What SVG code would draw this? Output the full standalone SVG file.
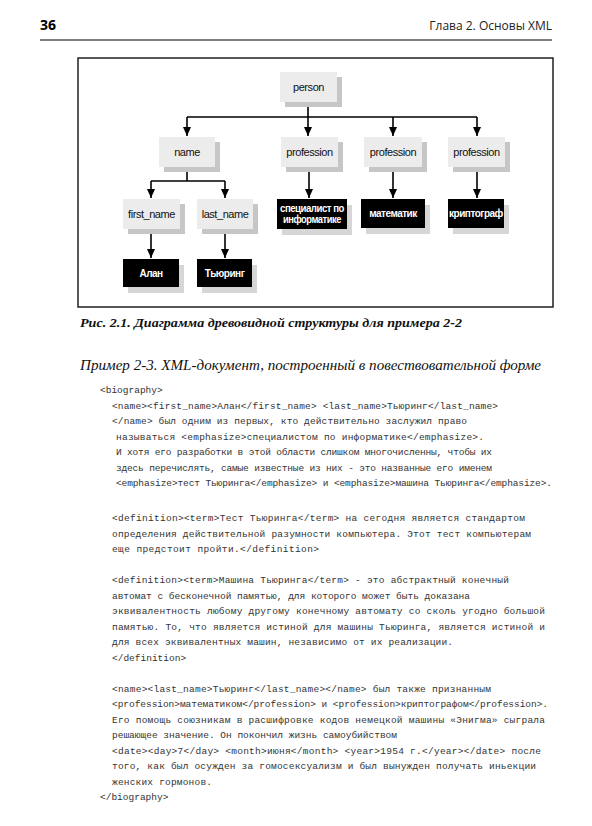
<svg xmlns="http://www.w3.org/2000/svg" width="592" height="826" viewBox="0 0 592 826">
<defs>
<marker id="ah" markerUnits="userSpaceOnUse" markerWidth="9" markerHeight="9" refX="9" refY="4" orient="auto">
<path d="M0,0 L9,4 L0,8 z" fill="#000"/>
</marker>
<style>
.sh{fill:#c6c6c6}
.shd{fill:#d6d6d6}
.nb{fill:#ececec}
.bb{fill:#000}
.nt{font-family:"Liberation Sans",Arial,sans-serif;font-size:11px;letter-spacing:-0.45px;fill:#111;text-anchor:middle}
.bt{font-family:"Liberation Sans",Arial,sans-serif;font-size:10px;font-weight:bold;letter-spacing:-0.5px;fill:#fff;text-anchor:middle}
.ln{stroke:#000;stroke-width:1.6;fill:none}
.ar{stroke:#000;stroke-width:1.6;fill:none;marker-end:url(#ah)}
.code{font-family:"Liberation Mono","DejaVu Sans Mono",monospace;font-size:9.5px;fill:#333;white-space:pre}
</style>
</defs>
<rect width="592" height="826" fill="#fff"/>

<!-- header -->
<text x="40" y="30" font-family="'Open Sans','Liberation Sans',sans-serif" font-size="14" font-weight="bold" fill="#000">36</text>
<text x="552" y="30" font-family="'Open Sans','Liberation Sans',sans-serif" font-size="12" fill="#222" text-anchor="end">Глава 2. Основы XML</text>
<line x1="40" y1="40" x2="552" y2="40" stroke="#000" stroke-width="1.2"/>

<!-- frame -->
<rect x="78" y="58" width="475" height="249" fill="none" stroke="#111" stroke-width="1.4"/>

<!-- connectors -->
<g id="connectors">
<path class="ln" d="M308,102 V117 M187,117 H477"/>
<path class="ar" d="M187,117 V136"/>
<path class="ar" d="M308,117 V136"/>
<path class="ar" d="M393,117 V136"/>
<path class="ar" d="M477,117 V136"/>
<path class="ln" d="M187,166 V181 M151,181 H225"/>
<path class="ar" d="M151,181 V198"/>
<path class="ar" d="M225,181 V198"/>
<path class="ar" d="M151,229 V258"/>
<path class="ar" d="M225,229 V258"/>
<path class="ar" d="M309,167 V198"/>
<path class="ar" d="M393,167 V198"/>
<path class="ar" d="M477,167 V198"/>
</g>

<g id="person">
<rect class="sh" x="285" y="77" width="57" height="30"/>
<rect class="nb" x="280" y="72" width="57" height="30"/>
<text class="nt" x="308.5" y="91">person</text>
</g>
<g id="name">
<rect class="sh" x="164" y="142" width="56" height="30"/>
<rect class="nb" x="159" y="137" width="56" height="30"/>
<text class="nt" x="187" y="156">name</text>
</g>
<g id="profession1">
<rect class="sh" x="286" y="142" width="57" height="30"/>
<rect class="nb" x="281" y="137" width="57" height="30"/>
<text class="nt" x="309.5" y="156">profession</text>
</g>
<g id="profession2">
<rect class="sh" x="369" y="142" width="58" height="30"/>
<rect class="nb" x="364" y="137" width="58" height="30"/>
<text class="nt" x="393" y="156">profession</text>
</g>
<g id="profession3">
<rect class="sh" x="453" y="142" width="57" height="30"/>
<rect class="nb" x="448" y="137" width="57" height="30"/>
<text class="nt" x="476.5" y="156">profession</text>
</g>
<g id="first_name">
<rect class="sh" x="128" y="204" width="57" height="30"/>
<rect class="nb" x="123" y="199" width="57" height="30"/>
<text class="nt" x="151.5" y="218">first_name</text>
</g>
<g id="last_name">
<rect class="sh" x="202" y="204" width="56" height="30"/>
<rect class="nb" x="197" y="199" width="56" height="30"/>
<text class="nt" x="225" y="218">last_name</text>
</g>
<g id="specialist">
<rect class="shd" x="282" y="205" width="70" height="30"/>
<rect class="bb" x="277" y="199" width="70" height="30"/>
<text class="bt" x="312" y="211.5" font-size="9.2" textLength="64" lengthAdjust="spacingAndGlyphs">специалист по</text>
<text class="bt" x="312" y="223" font-size="9.2" textLength="58" lengthAdjust="spacingAndGlyphs">информатике</text>
</g>
<g id="matematik">
<rect class="shd" x="366" y="205" width="64" height="29"/>
<rect class="bb" x="361" y="199" width="64" height="29"/>
<text class="bt" x="393" y="217">математик</text>
</g>
<g id="kriptograf">
<rect class="shd" x="453" y="205" width="56" height="29"/>
<rect class="bb" x="448" y="199" width="56" height="29"/>
<text class="bt" x="476" y="217">криптограф</text>
</g>
<g id="alan">
<rect class="shd" x="128" y="265" width="56" height="28"/>
<rect class="bb" x="123" y="259" width="56" height="28"/>
<text class="bt" x="151" y="276.5">Алан</text>
</g>
<g id="turing">
<rect class="shd" x="202" y="265" width="55" height="28"/>
<rect class="bb" x="197" y="259" width="55" height="28"/>
<text class="bt" x="224.5" y="276.5">Тьюринг</text>
</g>

<!-- captions -->
<text x="80" y="327" font-family="'Liberation Serif','DejaVu Serif',serif" font-size="12.5" font-style="italic" font-weight="bold" fill="#111" textLength="382" lengthAdjust="spacingAndGlyphs">Рис. 2.1. Диаграмма древовидной структуры для примера 2-2</text>
<text x="80" y="370" font-family="'Liberation Serif','DejaVu Serif',serif" font-size="14" font-style="italic" fill="#111" textLength="461" lengthAdjust="spacingAndGlyphs">Пример 2-3. XML-документ, построенный в повествовательной форме</text>

<!-- code -->
<g class="code">
<text x="100" y="393">&lt;biography&gt;</text>
<text x="112" y="408.5" textLength="386">&lt;name&gt;&lt;first_name&gt;Алан&lt;/first_name&gt; &lt;last_name&gt;Тьюринг&lt;/last_name&gt;</text>
<text x="112" y="424" textLength="355">&lt;/name&gt; был одним из первых, кто действительно заслужил право</text>
<text x="116" y="439.5" textLength="368">называться &lt;emphasize&gt;специалистом по информатике&lt;/emphasize&gt;.</text>
<text x="116" y="455" textLength="376">И хотя его разработки в этой области слишком многочисленны, чтобы их</text>
<text x="116" y="470.5" textLength="376">здесь перечислять, самые известные из них - это названные его именем</text>
<text x="116" y="486" textLength="436">&lt;emphasize&gt;тест Тьюринга&lt;/emphasize&gt; и &lt;emphasize&gt;машина Тьюринга&lt;/emphasize&gt;.</text>
<text x="112" y="521" textLength="413">&lt;definition&gt;&lt;term&gt;Тест Тьюринга&lt;/term&gt; на сегодня является стандартом</text>
<text x="112" y="536.5" textLength="419">определения действительной разумности компьютера. Этот тест компьютерам</text>
<text x="112" y="552" textLength="207">еще предстоит пройти.&lt;/definition&gt;</text>
<text x="112" y="583" textLength="397">&lt;definition&gt;&lt;term&gt;Машина Тьюринга&lt;/term&gt; - это абстрактный конечный</text>
<text x="112" y="598.5" textLength="358">автомат с бесконечной памятью, для которого может быть доказана</text>
<text x="112" y="614" textLength="433">эквивалентность любому другому конечному автомату со сколь угодно большой</text>
<text x="112" y="629.5" textLength="433">памятью. То, что является истиной для машины Тьюринга, является истиной и</text>
<text x="112" y="645" textLength="341">для всех эквивалентных машин, независимо от их реализации.</text>
<text x="112" y="660.5">&lt;/definition&gt;</text>
<text x="112" y="691.5" textLength="379">&lt;name&gt;&lt;last_name&gt;Тьюринг&lt;/last_name&gt;&lt;/name&gt; был также признанным</text>
<text x="112" y="707" textLength="436">&lt;profession&gt;математиком&lt;/profession&gt; и &lt;profession&gt;криптографом&lt;/profession&gt;.</text>
<text x="112" y="722.5" textLength="433">Его помощь союзникам в расшифровке кодов немецкой машины «Энигма» сыграла</text>
<text x="112" y="738" textLength="285">решающее значение. Он покончил жизнь самоубийством</text>
<text x="112" y="753.5" textLength="429">&lt;date&gt;&lt;day&gt;7&lt;/day&gt; &lt;month&gt;июня&lt;/month&gt; &lt;year&gt;1954 г.&lt;/year&gt;&lt;/date&gt; после</text>
<text x="112" y="769" textLength="424">того, как был осужден за гомосексуализм и был вынужден получать иньекции</text>
<text x="112" y="784.5" textLength="100">женских гормонов.</text>
<text x="100" y="800">&lt;/biography&gt;</text>
</g>
</svg>
